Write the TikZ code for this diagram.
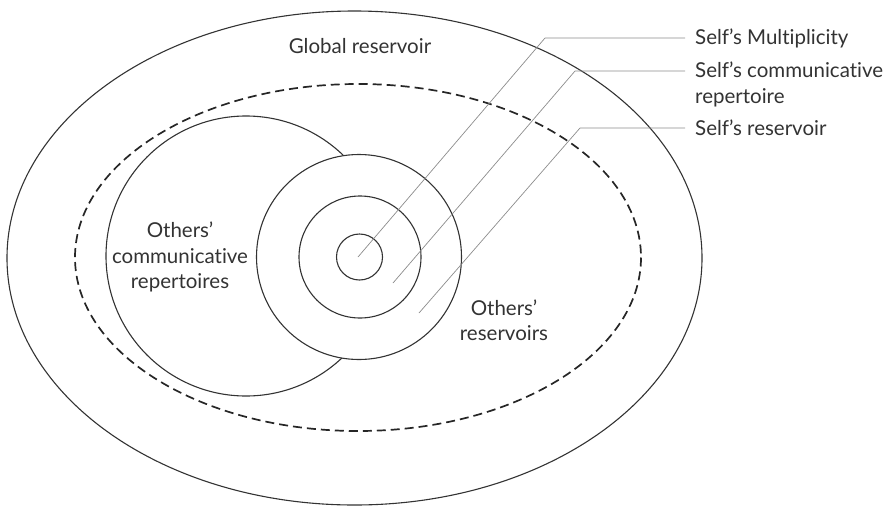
\documentclass[tikz,border=0pt]{standalone}
\usepackage{fontspec}
\setmainfont{Lato}[Ligatures=NoCommon]
\begin{document}
\begin{tikzpicture}[x=1pt,y=-1pt,
  ring/.style={draw=black!80,line width=1.1pt},
  dashring/.style={draw=black!85,line width=1.7pt,dash pattern=on 9pt off 5pt},
  leader/.style={draw=black!45,line width=0.7pt},
  lbl/.style={font=\fontsize{20.5}{25.5}\selectfont,text=black!80,inner sep=0pt},
  rlbl/.style={lbl,anchor=west,align=left}]
\useasboundingbox (0,0) rectangle (891,509);
% outer and dashed ellipses
\draw[ring] (354.5,258) ellipse [x radius=347.5, y radius=247];
\draw[dashring] (358,257.5) ellipse [x radius=283, y radius=173.5];
% others' communicative repertoires circle
\draw[ring] (246,256) circle [radius=140];
% self circles
\filldraw[ring,fill=white] (359,257) circle [radius=102.5];
\draw[ring] (360,257) circle [radius=61];
\draw[ring] (359.5,257) circle [radius=23];
% texts
\node[lbl] (global) at (360,46) {Global reservoir};
\node[lbl,align=center] (ocr) at (180,257) {Others’\\communicative\\repertoires};
\node[lbl,align=center] (ores) at (504,320) {Others’\\reservoirs};
\node[rlbl] (mult) at (695,38) {Self’s Multiplicity};
\node[rlbl] (comm) at (695,84.5) {Self’s communicative\\repertoire};
\node[rlbl] (sres) at (695,128) {Self’s reservoir};
% leader coordinates
\coordinate (s1) at (358,257);
\coordinate (k1) at (545,38);
\coordinate (e1) at (685,38);
\coordinate (s2) at (393,283);
\coordinate (k2) at (575,71);
\coordinate (e2) at (685,71);
\coordinate (s3) at (419,313);
\coordinate (k3) at (580,128);
\coordinate (e3) at (685,128);
\draw[leader] (s1) -- (k1) -- (e1);
\draw[leader] (s2) -- (k2) -- (e2);
\draw[leader] (s3) -- (k3) -- (e3);
\end{tikzpicture}
\end{document}
